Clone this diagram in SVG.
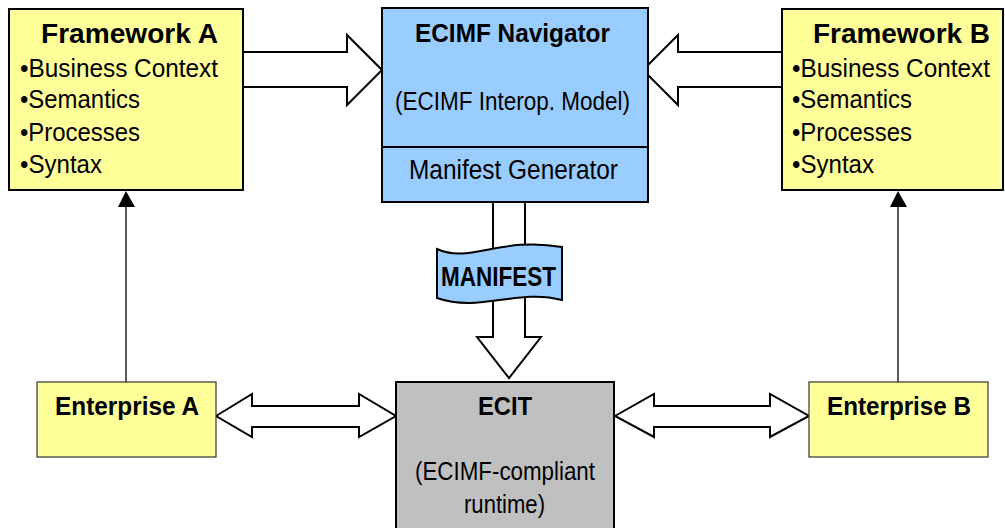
<svg xmlns="http://www.w3.org/2000/svg" width="1005" height="528" viewBox="0 0 1005 528">
<style>
text { font-family: "Liberation Sans", Arial, sans-serif; fill: #000; }
.b { font-weight: bold; }
.bul { font-size: 25.5px; }
.yel { fill: #FFFF99; stroke: #000; stroke-width: 2; }
.ent { fill: #FFFF99; stroke: #333; stroke-width: 1.2; }
.blu { fill: #99CCFF; stroke: #000; stroke-width: 2; }
.gry { fill: #C0C0C0; stroke: #000; stroke-width: 2; }
.fat { fill: #FFFFFF; stroke: #000; stroke-width: 2; stroke-linejoin: miter; }
.thin { stroke: #000; stroke-width: 1.3; fill: none; }
.head { fill: #000; }
</style>
<rect width="1005" height="528" fill="#FFFFFF"/>
<g id="connectors">
  <polygon class="fat" points="240,52 347,52 347,35 382,70 347,105 347,87 240,87"/>
  <polygon class="fat" points="785,52 678,52 678,35 643,70 678,105 678,87 785,87"/>
  <polygon class="fat" points="493,199 525,199 525,337 541,337 509,378 477,337 493,337"/>
  <polygon class="fat" points="216,416 252,394 252,406 359,406 359,394 396,416 359,437 359,427 252,427 252,437"/>
  <polygon class="fat" points="615,416 654,394 654,406 770,406 770,394 809,416 770,437 770,427 654,427 654,437"/>
  <line class="thin" x1="126" y1="205" x2="126" y2="382"/>
  <polygon class="head" points="126,191 118,207 135,207"/>
  <line class="thin" x1="898" y1="205" x2="898" y2="382"/>
  <polygon class="head" points="898,191 890,207 907,207"/>
</g>
<g id="framework-a">
  <rect class="yel" x="9" y="9" width="234" height="181"/>
  <text class="b" x="41" y="43" font-size="28" textLength="177" lengthAdjust="spacingAndGlyphs">Framework A</text>
  <text class="bul" x="20" y="77" textLength="198" lengthAdjust="spacingAndGlyphs">•Business Context</text>
  <text class="bul" x="20" y="108" textLength="120" lengthAdjust="spacingAndGlyphs">•Semantics</text>
  <text class="bul" x="20" y="141" textLength="120" lengthAdjust="spacingAndGlyphs">•Processes</text>
  <text class="bul" x="20" y="173" textLength="82" lengthAdjust="spacingAndGlyphs">•Syntax</text>
</g>
<g id="framework-b">
  <rect class="yel" x="782" y="9" width="221" height="181"/>
  <text class="b" x="813" y="43" font-size="28" textLength="177" lengthAdjust="spacingAndGlyphs">Framework B</text>
  <text class="bul" x="792" y="77" textLength="198" lengthAdjust="spacingAndGlyphs">•Business Context</text>
  <text class="bul" x="792" y="108" textLength="120" lengthAdjust="spacingAndGlyphs">•Semantics</text>
  <text class="bul" x="792" y="141" textLength="120" lengthAdjust="spacingAndGlyphs">•Processes</text>
  <text class="bul" x="792" y="173" textLength="82" lengthAdjust="spacingAndGlyphs">•Syntax</text>
</g>
<g id="ecimf-navigator">
  <rect class="blu" x="382" y="8" width="266" height="194"/>
  <line x1="382" y1="147" x2="648" y2="147" stroke="#000" stroke-width="2"/>
  <text class="b" x="415" y="42" font-size="26" textLength="195" lengthAdjust="spacingAndGlyphs">ECIMF Navigator</text>
  <text x="395" y="110" font-size="26" textLength="235" lengthAdjust="spacingAndGlyphs">(ECIMF Interop. Model)</text>
  <text x="409" y="179" font-size="27" textLength="209" lengthAdjust="spacingAndGlyphs">Manifest Generator</text>
</g>
<g id="manifest">
  <path class="blu" d="M437,249 C470,264 500,236 562,247 L562,300 C518,288 480,313 437,298 Z"/>
  <text class="b" x="441" y="286" font-size="27" textLength="115" lengthAdjust="spacingAndGlyphs">MANIFEST</text>
</g>
<g id="enterprise-a">
  <rect class="ent" x="37" y="382" width="179" height="75"/>
  <text class="b" x="55" y="415" font-size="26" textLength="144" lengthAdjust="spacingAndGlyphs">Enterprise A</text>
</g>
<g id="enterprise-b">
  <rect class="ent" x="809" y="382" width="179" height="75"/>
  <text class="b" x="827" y="415" font-size="26" textLength="144" lengthAdjust="spacingAndGlyphs">Enterprise B</text>
</g>
<g id="ecit">
  <rect class="gry" x="396" y="382" width="218" height="160"/>
  <text class="b" x="478" y="415" font-size="25" textLength="54" lengthAdjust="spacingAndGlyphs">ECIT</text>
  <text x="415" y="480" font-size="26" textLength="180" lengthAdjust="spacingAndGlyphs">(ECIMF-compliant</text>
  <text x="464" y="513" font-size="26" textLength="81" lengthAdjust="spacingAndGlyphs">runtime)</text>
</g>
</svg>
